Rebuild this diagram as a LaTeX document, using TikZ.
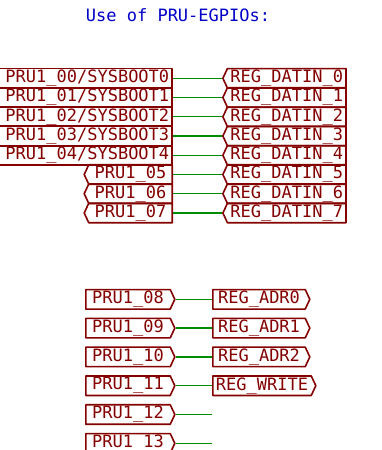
\documentclass[tikz,border=0pt]{standalone}
\usepackage{fontspec}
\newfontfamily\kifont{DejaVu Sans Mono}
\usetikzlibrary{shapes.symbols}

\definecolor{labred}{RGB}{132,0,0}
\definecolor{wiregreen}{RGB}{0,140,0}
\definecolor{noteblue}{RGB}{0,0,200}

\tikzset{
  glabel/.style={draw=labred, text=labred, line width=1.6pt, line join=round,
    font=\kifont\fontsize{17}{18}\selectfont, minimum height=19.5pt,
    inner xsep=3pt, inner ysep=1pt},
  flatlabel/.style={glabel, rectangle, text width=170pt, align=right},
  inlabel/.style={glabel, signal, signal to=west, signal pointer angle=130},
  outlabel/.style={glabel, signal, signal to=east, signal pointer angle=130},
  wire/.style={draw=wiregreen, line width=1.3pt}
}

\begin{document}
\begin{tikzpicture}[x=1pt,y=-1pt]
\useasboundingbox (0,0) rectangle (381,450);

\node[text=noteblue, font=\kifont\fontsize{17}{18}\selectfont] (title) at (178,15) {Use of PRU-EGPIOs:};

% PRU1_00 .. PRU1_07 to REG_DATIN
\node[flatlabel, anchor=east] (p00) at (173,78.3) {PRU1\_00/SYSBOOT0};
\node[flatlabel, anchor=east] (p01) at (173,97.5) {PRU1\_01/SYSBOOT1};
\node[flatlabel, anchor=east] (p02) at (173,116.8) {PRU1\_02/SYSBOOT2};
\node[flatlabel, anchor=east] (p03) at (173,136.0) {PRU1\_03/SYSBOOT3};
\node[flatlabel, anchor=east] (p04) at (173,155.3) {PRU1\_04/SYSBOOT4};
\node[inlabel, anchor=east, minimum width=88pt] (p05) at (173,174.5) {PRU1\_05};
\node[inlabel, anchor=east, minimum width=88pt] (p06) at (173,193.7) {PRU1\_06};
\node[inlabel, anchor=east, minimum width=88pt] (p07) at (173,213.0) {PRU1\_07};

\node[inlabel, anchor=west, minimum width=121pt] (d0) at (222,78.3) {REG\_DATIN\_0};
\node[inlabel, anchor=west, minimum width=121pt] (d1) at (222,97.5) {REG\_DATIN\_1};
\node[inlabel, anchor=west, minimum width=121pt] (d2) at (222,116.8) {REG\_DATIN\_2};
\node[inlabel, anchor=west, minimum width=121pt] (d3) at (222,136.0) {REG\_DATIN\_3};
\node[inlabel, anchor=west, minimum width=121pt] (d4) at (222,155.3) {REG\_DATIN\_4};
\node[inlabel, anchor=west, minimum width=121pt] (d5) at (222,174.5) {REG\_DATIN\_5};
\node[inlabel, anchor=west, minimum width=121pt] (d6) at (222,193.7) {REG\_DATIN\_6};
\node[inlabel, anchor=west, minimum width=121pt] (d7) at (222,213.0) {REG\_DATIN\_7};

\draw[wire] (p00.east) -- (d0.west);
\draw[wire] (p01.east) -- (d1.west);
\draw[wire] (p02.east) -- (d2.west);
\draw[wire] (p03.east) -- (d3.west);
\draw[wire] (p04.east) -- (d4.west);
\draw[wire] (p05.east) -- (d5.west);
\draw[wire] (p06.east) -- (d6.west);
\draw[wire] (p07.east) -- (d7.west);

% PRU1_08 .. PRU1_13 to address and write
\node[outlabel, anchor=west, minimum width=89pt] (p08) at (85,299.3) {PRU1\_08};
\node[outlabel, anchor=west, minimum width=89pt] (p09) at (85,328.1) {PRU1\_09};
\node[outlabel, anchor=west, minimum width=89pt] (p10) at (85,356.9) {PRU1\_10};
\node[outlabel, anchor=west, minimum width=89pt] (p11) at (85,385.7) {PRU1\_11};
\node[outlabel, anchor=west, minimum width=89pt] (p12) at (85,414.5) {PRU1\_12};
\node[outlabel, anchor=west, minimum width=89pt] (p13) at (85,443.3) {PRU1\_13};

\node[outlabel, anchor=west, minimum width=97pt] (a0) at (212,299.3) {REG\_ADR0};
\node[outlabel, anchor=west, minimum width=97pt] (a1) at (212,328.1) {REG\_ADR1};
\node[outlabel, anchor=west, minimum width=97pt] (a2) at (212,356.9) {REG\_ADR2};
\node[outlabel, anchor=west, minimum width=103pt] (wr) at (212,385.7) {REG\_WRITE};
\coordinate (e12) at (212,414.5);
\coordinate (e13) at (212,443.3);

\draw[wire] (p08.east) -- (a0.west);
\draw[wire] (p09.east) -- (a1.west);
\draw[wire] (p10.east) -- (a2.west);
\draw[wire] (p11.east) -- (wr.west);
\draw[wire] (p12.east) -- (e12);
\draw[wire] (p13.east) -- (e13);

\end{tikzpicture}
\end{document}
